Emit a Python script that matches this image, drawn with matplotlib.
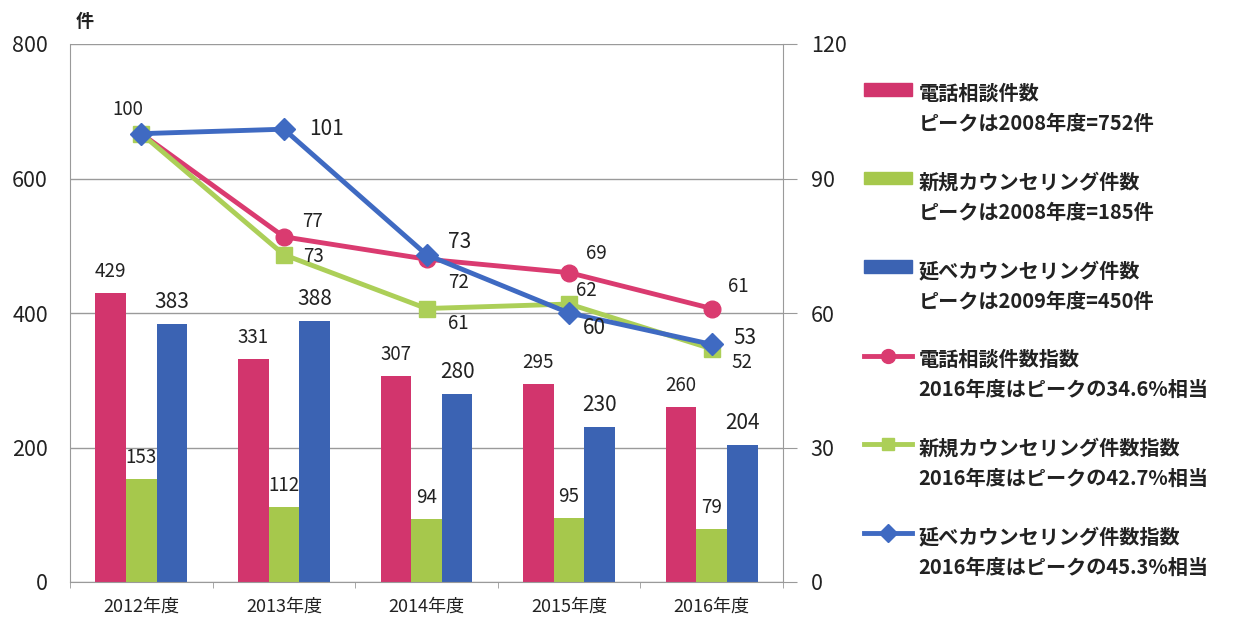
import matplotlib
matplotlib.use("Agg")
import matplotlib.pyplot as plt
from matplotlib.lines import Line2D
from matplotlib.patches import Patch
import numpy as np

plt.rcParams["font.family"] = ["Noto Sans CJK JP", "DejaVu Sans"]

years = ["2012年度", "2013年度", "2014年度", "2015年度", "2016年度"]
phone = [429, 331, 307, 295, 260]
new_c = [153, 112, 94, 95, 79]
total_c = [383, 388, 280, 230, 204]
phone_idx = [100, 77, 72, 69, 61]
new_idx = [100, 73, 61, 62, 52]
total_idx = [100, 101, 73, 60, 53]

legend_labels = [
    "電話相談件数\nピークは2008年度=752件",
    "新規カウンセリング件数\nピークは2008年度=185件",
    "延べカウンセリング件数\nピークは2009年度=450件",
    "電話相談件数指数\n2016年度はピークの34.6%相当",
    "新規カウンセリング件数指数\n2016年度はピークの42.7%相当",
    "延べカウンセリング件数指数\n2016年度はピークの45.3%相当",
]

RED, GREEN, BLUE = "#d2356d", "#a6c84c", "#3b63b3"
RED_L, GREEN_L, BLUE_L = "#da3b70", "#accf58", "#3f6ac2"
TXT = "#222222"

fig = plt.figure(figsize=(12.33, 6.18), dpi=100)
ax = fig.add_axes([70 / 1233, 1 - 582 / 618, 713 / 1233, 538 / 618])
ax2 = ax.twinx()

x = np.arange(len(years))
w = 0.215
b1 = ax.bar(x - w, phone, w, color=RED, zorder=2)
b2 = ax.bar(x, new_c, w, color=GREEN, zorder=2)
b3 = ax.bar(x + w, total_c, w, color=BLUE, zorder=2)

for bars, vals, fs in [(b1, phone, 13.5), (b2, new_c, 13.5), (b3, total_c, 15)]:
    for r, v in zip(bars, vals):
        ax.annotate(str(v), (r.get_x() + r.get_width() / 2, v),
                    xytext=(0, 11), textcoords="offset pixels",
                    ha="center", va="bottom", fontsize=fs, color=TXT)

ax.set_ylim(0, 800)
ax.set_yticks([0, 200, 400, 600, 800])
ax.set_xlim(-0.5, 4.5)
ax.set_xticks(x)
ax.set_xticklabels(years, fontsize=13, color=TXT)
ax.set_xticks(np.arange(-0.5, 5, 1), minor=True)
ax.tick_params(axis="x", which="major", length=0, pad=11)
ax.tick_params(axis="x", which="minor", length=4, color="#999999")
ax.tick_params(axis="y", length=0, labelsize=15.5, pad=16, labelcolor=TXT)
ax.grid(axis="y", color="#9a9a9a", lw=1, zorder=0)
for s in ["top", "right"]:
    ax.spines[s].set_visible(False)
ax.spines["left"].set_color("#9a9a9a")
ax.spines["bottom"].set_color("#9a9a9a")

ax2.plot(x, phone_idx, color=RED_L, lw=3.5, marker="o", ms=12, zorder=3)
ax2.plot(x, new_idx, color=GREEN_L, lw=3.5, marker="s", ms=11, zorder=3)
ax2.plot(x, total_idx, color=BLUE_L, lw=3.5, marker="D", ms=11, zorder=4)
ax2.set_ylim(0, 120)
ax2.set_yticks([0, 30, 60, 90, 120])
ax2.tick_params(axis="y", length=10, color="#9a9a9a", labelsize=15.5, pad=10,
                labelcolor=TXT)
for s in ["top", "left", "bottom"]:
    ax2.spines[s].set_visible(False)
ax2.spines["right"].set_color("#9a9a9a")

# label offsets in pixels from each point
red_off = [None, (29, 15), (32, -23), (27, 19), (27, 22)]
green_off = [None, (30, -2), (32, -15), (17, 14), (30, -14)]
blue_off = [(-13, 24), (43, 0), (33, 13), (25, -15), (33, 6)]
for vals, offs, fs in [(phone_idx, red_off, 13.5), (new_idx, green_off, 13.5),
                       (total_idx, blue_off, 15)]:
    for i, (v, o) in enumerate(zip(vals, offs)):
        if o is None:
            continue
        ax2.annotate(str(v), (x[i], v), xytext=o, textcoords="offset pixels",
                     ha="center", va="center",
                     fontsize=13.5 if v == 100 else fs, color=TXT, zorder=5)

ax.text(-0.5 + 15 / 143, 833, "件", fontsize=13, fontweight="bold", color=TXT,
        ha="center", va="center", clip_on=False)

handles = [
    Patch(color=RED), Patch(color=GREEN), Patch(color=BLUE),
    Line2D([], [], color=RED_L, lw=3.5, marker="o", ms=10),
    Line2D([], [], color=GREEN_L, lw=3.5, marker="s", ms=9),
    Line2D([], [], color=BLUE_L, lw=3.5, marker="D", ms=9),
]
leg = fig.legend(handles, legend_labels, loc="upper left",
                 bbox_to_anchor=(864 / 1233, 1 - 83 / 618), frameon=False,
                 prop={"size": 14.5, "weight": "bold"}, labelcolor=TXT,
                 labelspacing=1.85, handlelength=2.4, handleheight=0.6,
                 handletextpad=0.3, borderaxespad=0, borderpad=0)
for t in leg.get_texts():
    t.set_linespacing(1.55)
# put each handle next to the first line of its label
for col in leg._legend_handle_box.get_children():
    for item in col.get_children():
        item.align = "top"

fig.savefig("out.png", dpi=100, facecolor="white")
